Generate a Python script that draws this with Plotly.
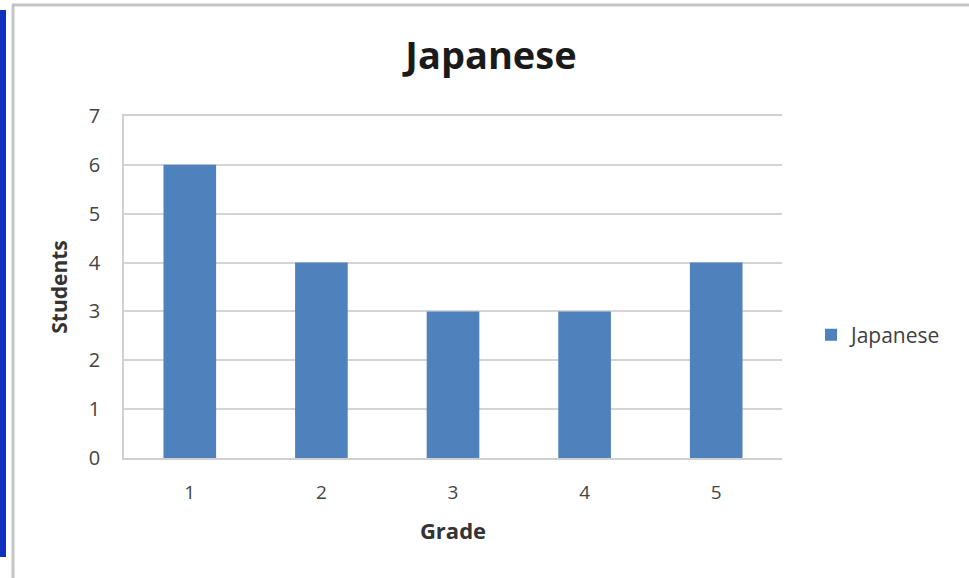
import plotly.graph_objects as go

grades = ["1", "2", "3", "4", "5"]
students = [6, 4, 3, 3, 4]
y_ticks = [0, 1, 2, 3, 4, 5, 6, 7]

W, H = 969, 578
L, R, T, B = 124, 782, 116, 458

def px(x):
    return (x - L) / (R - L)

def py(y):
    return (B - y) / (B - T)

fig = go.Figure()
fig.add_trace(go.Bar(
    x=grades, y=students, name="Japanese",
    marker=dict(color="#4f81bd", line=dict(width=0)),
    width=0.4,
))

font = "Open Sans, Liberation Sans, sans-serif"
fig.update_layout(
    width=W, height=H,
    margin=dict(l=L, r=W - R, t=T, b=H - B),
    paper_bgcolor="white", plot_bgcolor="white",
    title=dict(text="<b>Japanese</b>", x=px(491), xanchor="center", xref="paper",
               y=1 - 56 / H, yanchor="middle",
               font=dict(family=font, size=38, color="#1a1a1a")),
    font=dict(family=font, color="#444444"),
    showlegend=True,
    legend=dict(x=px(811), xanchor="left", y=py(335), yanchor="middle",
                font=dict(family=font, size=21, color="#404040"),
                itemwidth=30),
    xaxis=dict(
        title=dict(text="<b>Grade</b>", font=dict(family=font, size=22, color="#333333"), standoff=20),
        tickfont=dict(family=font, size=19, color="#444444"),
        showgrid=False, showline=True, linecolor="#d0d0d0", linewidth=1.5,
        mirror=True,
        ticks="", ticklabelstandoff=16,
    ),
    yaxis=dict(
        title=dict(text="<b>Students</b>", font=dict(family=font, size=21, color="#333333"), standoff=15),
        tickfont=dict(family=font, size=20, color="#444444"),
        range=[0, 7], tickvals=y_ticks,
        showgrid=True, gridcolor="#d4d4d4", gridwidth=1.5,
        showline=True, linecolor="#d0d0d0", linewidth=1.5,
        zeroline=False, ticks="", ticklabelstandoff=18,
    ),
    shapes=[
        dict(type="rect", xref="paper", yref="paper",
             x0=px(0), x1=px(6), y0=py(557), y1=py(10),
             fillcolor="#1030c0", line=dict(width=0), layer="above"),
        dict(type="line", xref="paper", yref="paper",
             x0=px(13), x1=px(13), y0=py(5), y1=py(580),
             line=dict(color="#c4c4c4", width=3)),
        dict(type="line", xref="paper", yref="paper",
             x0=px(12), x1=px(975), y0=py(5), y1=py(5),
             line=dict(color="#c4c4c4", width=3)),
    ],
)

fig.write_html("out.html")
